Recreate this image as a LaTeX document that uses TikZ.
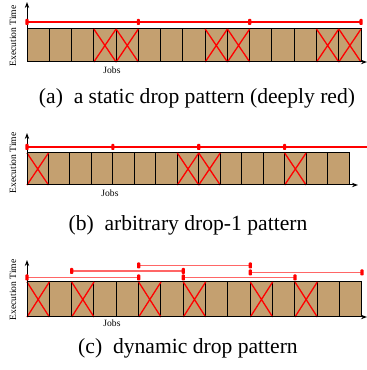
\documentclass[tikz,border=0pt]{standalone}
\usepackage{fontspec}
\setmainfont{Liberation Serif}
\usetikzlibrary{arrows.meta}
\definecolor{jobtan}{RGB}{196,160,112}

\begin{document}
\begin{tikzpicture}[x=0.5pt,y=0.5pt,
    job/.style={draw=black,fill=jobtan,line width=0.5pt},
    drop/.style={red,line width=0.65pt},
    axis/.style={-{Stealth[length=3pt,width=2.2pt]},line width=0.5pt},
    window/.style={red,line width=0.65pt},
    softwindow/.style={red!60,line width=0.8pt},
    tickbox/.style={fill=red,minimum width=1.6pt,minimum height=3pt,inner sep=0pt,rounded corners=0.4pt},
    ylab/.style={rotate=90,font=\fontsize{4.8}{5}\selectfont},
    xlab/.style={font=\fontsize{4.8}{5}\selectfont},
    capt/.style={font=\fontsize{10.8}{13}\selectfont}]
    \useasboundingbox (0,0) rectangle (367,370);
    % (a) static drop pattern
    \begin{scope}[shift={(27,308)}]
        \foreach \i in {0,...,14}
            \draw[job] ({22.27*\i},0) rectangle ++(22.27,33);
        \foreach \i in {3,4,8,9,13,14}
            \draw[drop] ({22.27*\i},0) -- ++(22.27,33) ++(-22.27,0) -- ++(22.27,-33);
        \draw[axis] (0,0) -- (0,60);
        \draw[axis] (0,0) -- (340,0);
        \draw[window] (0,40) -- (335,40);
        \foreach \i in {0,5,10,15}
            \node[tickbox] (ta\i) at ({22.27*\i},40) {};
        \node[ylab] (timea) at (-14,26) {Execution Time};
        \node[xlab] (jobsa) at (85,-8) {Jobs};
        \node[capt] (capa) at (170,-36) {(a)\hspace{0.5em}a static drop pattern (deeply red)};
    \end{scope}
    % (b) arbitrary drop-1 pattern
    \begin{scope}[shift={(27,185)}]
        \foreach \i in {0,...,14}
            \draw[job] ({21.47*\i},0) rectangle ++(21.47,32);
        \foreach \i in {0,7,8,12}
            \draw[drop] ({21.47*\i},0) -- ++(21.47,32) ++(-21.47,0) -- ++(21.47,-32);
        \draw[axis] (0,0) -- (0,52);
        \draw[axis] (0,0) -- (331,0);
        \draw[window] (0,38) -- (340,38);
        \foreach \i in {0,4,8,12}
            \node[tickbox] (tb\i) at ({21.47*\i},38) {};
        \node[ylab] (timeb) at (-14,22) {Execution Time};
        \node[xlab] (jobsb) at (83,-8) {Jobs};
        \node[capt] (capb) at (161,-40) {(b)\hspace{0.5em}arbitrary drop-1 pattern};
    \end{scope}
    % (c) dynamic drop pattern
    \begin{scope}[shift={(27,53)}]
        \foreach \i in {0,...,14}
            \draw[job] ({22.33*\i},0) rectangle ++(22.33,35);
        \foreach \i in {0,2,5,7,10,12}
            \draw[drop] ({22.33*\i},0) -- ++(22.33,35) ++(-22.33,0) -- ++(22.33,-35);
        \draw[axis] (0,0) -- (0,57);
        \draw[axis] (0,0) -- (340,0);
        % sliding windows
        \foreach \s/\h in {0/39.5, 2/46, 5/51.5, 7/39.5, 10/44.5} {
            \draw[softwindow] ({22.33*\s},\h) -- ({22.33*(\s+5)},\h);
            \node[tickbox] (tcl\s) at ({22.33*\s},\h) {};
            \node[tickbox] (tcr\s) at ({22.33*(\s+5)},\h) {};
        }
        \node[ylab] (timec) at (-14,27) {Execution Time};
        \node[xlab] (jobsc) at (85,-6) {Jobs};
        \node[capt] (capc) at (161,-31) {(c)\hspace{0.5em}dynamic drop pattern};
    \end{scope}
\end{tikzpicture}
\end{document}
